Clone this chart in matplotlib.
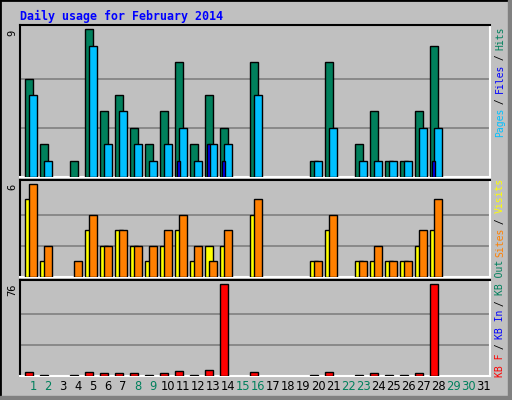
import matplotlib
matplotlib.use("Agg")
import matplotlib.pyplot as plt
from matplotlib.patches import Rectangle

days = list(range(1, 32))
hits  = [6,2,0,1,9,4,5,3,2,4,7,2,5,3,0,7,0,0,0,1,7,0,2,4,1,1,4,8,0,0,0]
files = [5,1,0,0,8,2,4,2,1,2,3,1,2,2,0,5,0,0,0,1,3,0,1,1,1,1,3,3,0,0,0]
pages = [0,0,0,0,0,0,0,0,0,0,1,0,2,1,0,0,0,0,0,0,0,0,0,0,0,0,0,1,0,0,0]
visits= [5,1,0,0,3,2,3,2,1,2,3,1,2,2,0,4,0,0,0,1,3,0,1,1,1,1,2,3,0,0,0]
sites = [6,2,0,1,4,2,3,2,2,3,4,2,1,3,0,5,0,0,0,1,4,0,1,2,1,1,3,5,0,0,0]
kbf   = [3.3,0.8,0,0.8,3.3,2.5,2.5,2.5,0.8,2.5,4.2,0.8,5,76,0,3.3,0,0,0,0.8,3.3,0,0.8,2.5,0.8,0.8,2.5,76,0,0,0]
weekend = [1,2,8,9,15,16,22,23,29,30]

GREEN, CYAN, BLUE = "#00805C", "#00C0FF", "#0000FF"
YELLOW, ORANGE, RED = "#FFFF00", "#FF8000", "#FF0000"
BG = "#C0C0C0"
W, H = 512, 400
fig = plt.figure(figsize=(W/100, H/100), dpi=100)
fig.patch.set_facecolor(BG)
fig.add_artist(Rectangle((0, 0), 1, 1, transform=fig.transFigure, fill=False, ec="black", lw=2))
fig.add_artist(Rectangle((1-4/W, 0), 4/W, 1, transform=fig.transFigure, color="#808080"))
fig.add_artist(Rectangle((0, 0), 1, 4/H, transform=fig.transFigure, color="#808080"))

def mkax(y0, y1):
    ax = fig.add_axes([20/W, 1-y1/H, 470/W, (y1-y0)/H])
    ax.set_facecolor(BG)
    ax.set_xlim(0, 470/15)
    ax.set_xticks([]); ax.set_yticks([])
    for s in ["left", "top"]:
        ax.spines[s].set_color("black")
    for s in ["right", "bottom"]:
        ax.spines[s].set_color("white")
    for sp in ax.spines.values():
        sp.set_linewidth(1.5)
    return ax

def bars(ax, vals, off, w, color):
    for d, v in zip(days, vals):
        if v > 0:
            ax.bar((d-1)+off/15, v, width=w/15, align="edge", color=color,
                   edgecolor="black", linewidth=1, zorder=3)

ax1 = mkax(25, 177)
ax1.set_ylim(0, 9*1.03)
for g in (3, 6):
    ax1.axhline(g, color="#808080", lw=1.2, zorder=1)
bars(ax1, hits, 5, 8, GREEN)
bars(ax1, files, 9, 8, CYAN)
bars(ax1, pages, 7, 2.5, BLUE)

ax2 = mkax(180, 277)
ax2.set_ylim(0, 6*1.04)
for g in (2, 4):
    ax2.axhline(g, color="#808080", lw=1.2, zorder=1)
bars(ax2, visits, 5, 8, YELLOW)
bars(ax2, sites, 9, 8, ORANGE)

ax3 = mkax(280, 376)
ax3.set_ylim(0, 76*1.04)
for g in (25.3, 50.7):
    ax3.axhline(g, color="#808080", lw=1.2, zorder=1)
for d, v in zip(days, kbf):
    if v >= 2:
        ax3.bar((d-1)+5/15, v, width=8/15, align="edge", color=RED, edgecolor="black", lw=1, zorder=3)
    elif v > 0:
        ax3.bar((d-1)+5/15, v, width=8/15, align="edge", color="black", edgecolor="black", lw=1, zorder=3)

for d in days:
    ax3.text((d-1)+13/15, -0.045, str(d), transform=ax3.get_xaxis_transform(),
             ha="center", va="top", fontsize=8.3, family="DejaVu Sans",
             color=GREEN if d in weekend else "black")

fig.text(20/W, 1-16/H, "Daily usage for February 2014", family="DejaVu Sans Mono",
         weight="bold", fontsize=8.4, color=BLUE, va="center")
for y, lab in ((30, "9"), (184, "6"), (284, "76")):
    fig.text(12/W, 1-y/H, lab, rotation=90, ha="center", va="top", fontsize=7.5,
             family="DejaVu Sans Mono", color="black")

def vlabel(ybottom, segs):
    y = ybottom
    for s, c in segs:
        fig.text(500/W, 1-y/H, s, rotation=90, ha="center", va="bottom",
                 fontsize=7, family="DejaVu Sans Mono", color=c)
        y -= len(s)*5.45

vlabel(137, [("Pages", CYAN), (" / ", "black"), ("Files", BLUE), (" / ", "black"), ("Hits", GREEN)])
vlabel(377, [("KB F", RED), (" / ", "black"), ("KB In", BLUE), (" / ", "black"), ("KB Out", GREEN),
             (" ", "black"), ("Sites", ORANGE), (" / ", "black"), ("Visits", YELLOW)])

fig.savefig("out.png", dpi=100, facecolor=BG)
